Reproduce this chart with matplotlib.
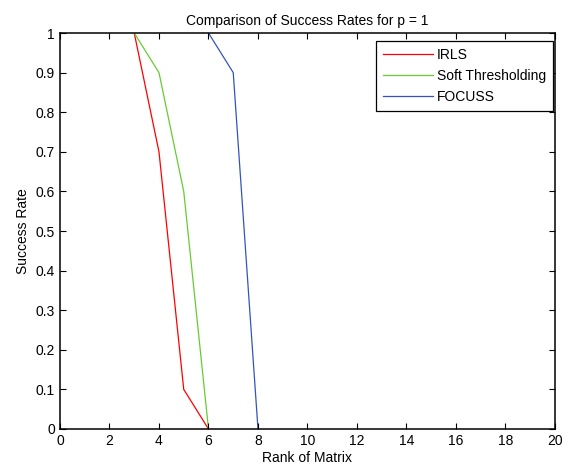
import numpy as np
import matplotlib.pyplot as plt

plt.rcParams['font.family'] = ['Liberation Sans', 'DejaVu Sans']

# success rate per matrix rank (only the visible part of each curve)
irls_rank = [3, 4, 5, 6]
irls = [1, 0.7, 0.1, 0]
soft_rank = [3, 4, 5, 6]
soft = [1, 0.9, 0.6, 0]
focuss_rank = [6, 7, 8]
focuss = [1, 0.9, 0]

fig = plt.figure(figsize=(5.68, 4.69), dpi=100)
ax = fig.add_axes([0.1056, 0.0853, 0.8715, 0.8443])

ax.plot(irls_rank, irls, color="#ff0000", lw=0.9, label="IRLS", zorder=1)
ax.plot(soft_rank, soft, color="#66cc33", lw=0.9, label="Soft Thresholding", zorder=1)
ax.plot(focuss_rank, focuss, color="#3355bb", lw=0.9, label="FOCUSS", zorder=1)

ax.set_xlim(0, 20)
ax.set_ylim(0, 1)
ax.set_xticks(np.arange(0, 21, 2))
ax.set_yticks(np.arange(0, 1.01, 0.1))
ax.set_yticklabels(["0", "0.1", "0.2", "0.3", "0.4", "0.5", "0.6", "0.7", "0.8", "0.9", "1"])
ax.tick_params(direction="in", top=True, right=True, labelsize=10, length=4)
for s in ax.spines.values():
    s.set_linewidth(1.1)
    s.set_zorder(5)

ax.set_xlabel("Rank of Matrix", fontsize=10, labelpad=2)
ax.set_ylabel("Success Rate", fontsize=10, labelpad=4)
ax.set_title("Comparison of Success Rates for p = 1", fontsize=10, pad=6)

leg = ax.legend(loc="upper right", bbox_to_anchor=(0.996, 0.98), fontsize=10,
                fancybox=False, framealpha=1, edgecolor="black",
                borderaxespad=0, handlelength=3.6, labelspacing=0.5,
                handletextpad=0.3, borderpad=0.5)
leg.get_frame().set_linewidth(0.9)

fig.savefig("out.png", dpi=100)
